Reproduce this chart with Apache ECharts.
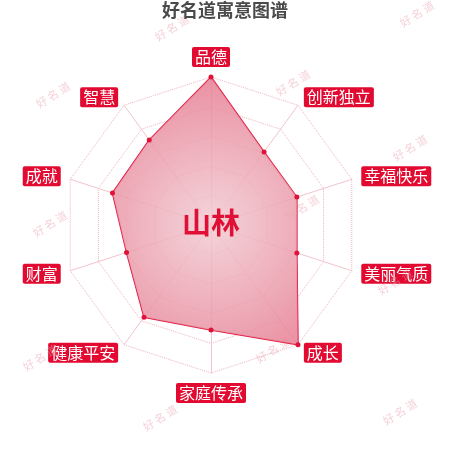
<!DOCTYPE html>
<html>
<head>
<meta charset="utf-8">
<script src="https://cdn.jsdelivr.net/npm/echarts@6/dist/echarts.min.js"></script>
<style>html,body{margin:0;padding:0;background:#fff;}#c{width:450px;height:450px;}</style>
</head>
<body>
<div id="c"></div>
<script>
// indicators listed counter-clockwise from top (ECharts radar order)
var indicatorNames = ['品德', '智慧', '成就', '财富', '健康平安', '家庭传承', '成长', '美丽气质', '幸福快乐', '创新独立'];
var indicatorMax = 100;
var values = [100, 71, 70, 60, 77, 71, 100, 61, 61, 61];
var titleText = '好名道寓意图谱';
var centerName = '山林';
var watermarkText = '好名道';
var watermarkSpots = [[172, 28], [417, 14], [53, 95], [293, 83], [410, 148], [50, 224], [302, 208], [395, 282], [40, 358], [273, 350], [160, 418], [400, 412]];

var chart = echarts.init(document.getElementById('c'));
var graphics = watermarkSpots.map(function (p) {
  return {
    type: 'text', x: p[0], y: p[1], rotation: 0.56, z: 1,
    style: { text: watermarkText.split('').join(' '), fill: 'rgba(235,165,180,0.5)', font: '11px "Noto Sans CJK SC"', align: 'center', verticalAlign: 'middle' }
  };
});
graphics.push({
  type: 'text', x: 211, y: 223, z: 100,
  style: { text: centerName, fill: '#df0f36', font: 'bold 29px "Noto Sans CJK SC"', align: 'center', verticalAlign: 'middle' }
});
chart.setOption({
  backgroundColor: '#fff',
  animation: false,
  title: {
    text: titleText, left: 'center', top: 0, padding: [1, 5],
    textStyle: { color: '#4a4a4a', fontSize: 18, fontWeight: 'bold', fontFamily: 'Noto Sans CJK SC',
      textShadowColor: 'rgba(240,140,160,0.8)', textShadowOffsetX: 1, textShadowOffsetY: 1, textShadowBlur: 0 }
  },
  graphic: graphics,
  radar: {
    center: [211, 225],
    radius: 148,
    splitNumber: 5,
    nameGap: 10,
    indicator: indicatorNames.map(function (n) { return { name: n, max: indicatorMax }; }),
    axisName: {
      color: '#fff', backgroundColor: '#e20a30', fontSize: 16, lineHeight: 16,
      fontFamily: 'Noto Sans CJK SC', padding: [2, 3, 2, 3], borderRadius: 2
    },
    axisLine: { lineStyle: { color: '#f2c4cd', width: 1 } },
    splitLine: { lineStyle: { color: '#efb3c0', type: 'dotted', width: 1 } },
    splitArea: { show: false }
  },
  series: [{
    type: 'radar',
    z: 5,
    symbol: 'circle',
    symbolSize: 5,
    itemStyle: { color: '#e0123a' },
    lineStyle: { color: '#e0123a', width: 1.5 },
    areaStyle: {
      opacity: 1,
      color: {
        type: 'radial', x: 0.53, y: 0.55, r: 0.8,
        colorStops: [
          { offset: 0, color: 'rgba(242,205,212,0.85)' },
          { offset: 1, color: 'rgba(230,125,146,0.85)' }
        ]
      }
    },
    data: [{ value: values, name: centerName }]
  }]
});
</script>
</body>
</html>
